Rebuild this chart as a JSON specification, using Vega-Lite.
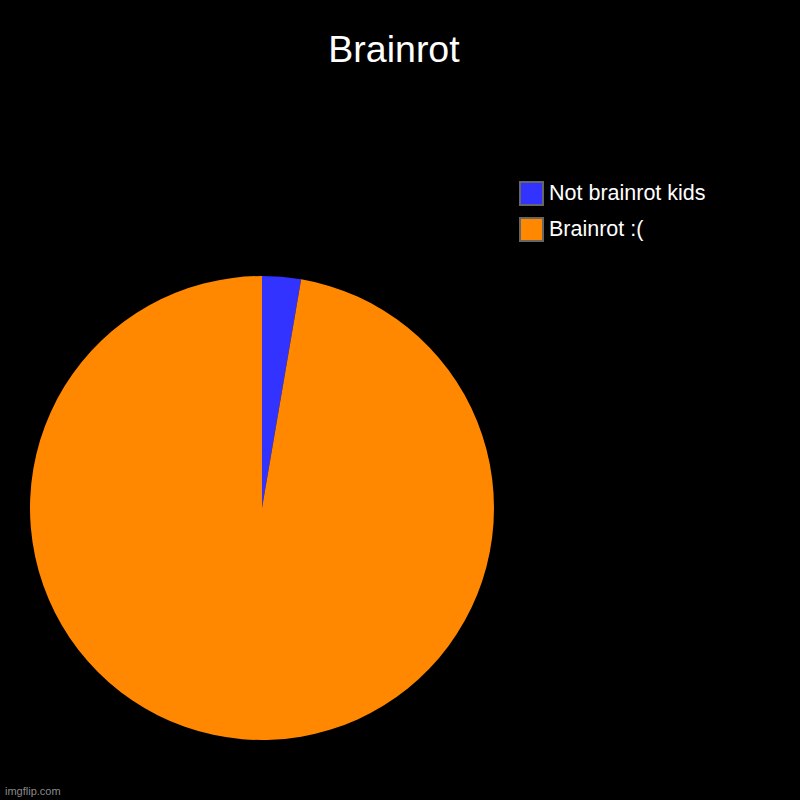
{
  "$schema": "https://vega.github.io/schema/vega-lite/v6.json",
  "autosize": "none",
  "width": 464,
  "height": 464,
  "padding": {"left": 30, "top": 276, "right": 306, "bottom": 60},
  "background": "#000000",
  "title": {
    "text": "Brainrot",
    "frame": "group",
    "anchor": "middle",
    "baseline": "alphabetic",
    "dx": 132,
    "dy": -78,
    "fontSize": 37.5,
    "fontWeight": "normal",
    "font": "Liberation Sans",
    "color": "#ffffff"
  },
  "layer": [
    {
      "data": {
        "values": [
          {"group": "Not brainrot kids", "value": 2.7},
          {"group": "Brainrot :(", "value": 97.3}
        ]
      },
      "mark": {"type": "arc", "outerRadius": 232},
      "encoding": {
        "theta": {"field": "value", "type": "quantitative", "stack": true},
        "order": {"field": "group", "sort": "descending"},
        "color": {
          "field": "group",
          "type": "nominal",
          "scale": {
            "domain": ["Not brainrot kids", "Brainrot :("],
            "range": ["#3333ff", "#ff8800"]
          },
          "legend": {
            "title": null,
            "orient": "none",
            "legendX": 489,
            "legendY": -95,
            "symbolType": "square",
            "symbolSize": 529,
            "symbolStrokeColor": "#666666",
            "symbolStrokeWidth": 2,
            "symbolOpacity": 1,
            "labelFontSize": 21.5,
            "labelFont": "Liberation Sans",
            "labelColor": "#ffffff",
            "labelLimit": 300,
            "labelOffset": 5,
            "rowPadding": 5
          }
        }
      }
    },
    {
      "data": {"values": [{"label": "imgflip.com"}]},
      "mark": {
        "type": "text",
        "align": "left",
        "baseline": "alphabetic",
        "fontSize": 11,
        "font": "Liberation Sans",
        "color": "#8a8a8a"
      },
      "encoding": {
        "text": {"field": "label"},
        "x": {"value": -25},
        "y": {"value": 519}
      }
    }
  ],
  "config": {"view": {"stroke": null}}
}
